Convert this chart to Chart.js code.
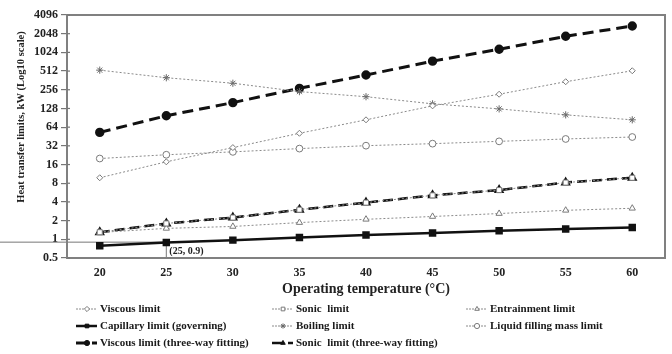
<!DOCTYPE html>
<html>
<head>
<meta charset="utf-8">
<script src="https://cdn.jsdelivr.net/npm/chart.js@4/dist/chart.umd.min.js"></script>
<style>
  html, body { margin: 0; padding: 0; background: #fff; }
  #wrap { width: 672px; height: 354px; position: relative; }
</style>
</head>
<body>
<div id="wrap"><canvas id="c" width="672" height="354"></canvas></div>
<script>
// ---- Data ----
const temperatures = [20, 25, 30, 35, 40, 45, 50, 55, 60];
const viscousLimit = [9.8, 17.7, 30, 51, 84, 141, 217, 345, 518];
const sonicLimit = [1.3, 1.8, 2.24, 3.0, 3.9, 5.1, 6.2, 8.2, 9.8];
const entrainmentLimit = [1.29, 1.5, 1.61, 1.86, 2.1, 2.33, 2.6, 2.93, 3.16];
const capillaryLimit = [0.79, 0.89, 0.97, 1.07, 1.17, 1.26, 1.37, 1.47, 1.55];
const boilingLimit = [530, 400, 326, 239, 198, 152, 126, 101, 84];
const liquidFillingLimit = [20, 23, 25.6, 28.9, 32.2, 34.7, 37.8, 41.3, 44.4];
const viscousThreeWay = [52.7, 97.6, 159, 270, 442, 740, 1150, 1860, 2720];
const sonicThreeWay = [1.3, 1.8, 2.24, 3.0, 3.9, 5.1, 6.2, 8.2, 9.8];
const yTickValues = [0.5, 1, 2, 4, 8, 16, 32, 64, 128, 256, 512, 1024, 2048, 4096];
const yTickLabels = ['0.5', '1', '2', '4', '8', '16', '32', '64', '128', '256', '512', '1024', '2048', '4096'];
const seriesNames = ['Viscous limit', 'Sonic  limit', 'Entrainment limit', 'Capillary limit (governing)',
  'Boiling limit', 'Liquid filling mass limit', 'Viscous limit (three-way fitting)', 'Sonic  limit (three-way fitting)'];
const refPoint = { x: 25, y: 0.9, label: '(25, 0.9)' };
const xTitle = 'Operating temperature (\u00B0C)';
const yTitle = 'Heat transfer limits, kW (Log10 scale)';

const SERIF = '"Liberation Serif", "DejaVu Serif", serif';
const grey = '#8a8a8a';

function pts(arr) { return temperatures.map((t, i) => ({ x: t, y: arr[i] })); }

function dotted(label, data, style, extra) {
  return Object.assign({
    label, data: pts(data),
    borderColor: grey, borderWidth: 1, borderDash: [2, 2],
    pointStyle: style, pointRadius: 3.2, pointBorderColor: '#7a7a7a', pointBackgroundColor: '#fff',
    pointBorderWidth: 1, fill: false, tension: 0
  }, extra || {});
}

const datasets = [
  dotted(seriesNames[0], viscousLimit, 'rectRot', { pointRadius: 3 }),
  dotted(seriesNames[1], sonicLimit, 'rect', { pointRadius: 3.6 }),
  dotted(seriesNames[2], entrainmentLimit, 'triangle', { pointRadius: 3.6 }),
  {
    label: seriesNames[3], data: pts(capillaryLimit),
    borderColor: '#111', borderWidth: 2.5, borderDash: [],
    pointStyle: 'rect', pointRadius: 3.5, pointBackgroundColor: '#111', pointBorderColor: '#111', fill: false
  },
  dotted(seriesNames[4], boilingLimit, 'star', { pointRadius: 3.6, pointBorderColor: '#6a6a6a', pointBorderWidth: 1 }),
  dotted(seriesNames[5], liquidFillingLimit, 'circle', { pointRadius: 3.4 }),
  {
    label: seriesNames[6], data: pts(viscousThreeWay),
    borderColor: '#111', borderWidth: 3, borderDash: [11, 6],
    pointStyle: 'circle', pointRadius: 3.2, pointBackgroundColor: '#111', pointBorderColor: '#111', fill: false
  },
  {
    label: seriesNames[7], data: pts(sonicThreeWay),
    borderColor: '#111', borderWidth: 2.5, borderDash: [10, 5],
    pointStyle: 'triangle', pointRadius: 3.5, pointBackgroundColor: '#111', pointBorderColor: '#111', fill: false
  }
];

// Legend grid positions (row, col)
const legendCols = [76, 272, 466];
const legendRows = [309, 326, 343];
const legendSlots = [[0,0],[0,1],[0,2],[1,0],[1,1],[1,2],[2,0],[2,1]];

const framePlugin = {
  id: 'frame',
  beforeDatasetsDraw(chart) {
    const { ctx } = chart;
    const xs = chart.scales.x, ys = chart.scales.y;
    const px = xs.getPixelForValue(refPoint.x), py = ys.getPixelForValue(refPoint.y);
    ctx.save();
    ctx.strokeStyle = '#777';
    ctx.lineWidth = 1;
    ctx.beginPath();
    ctx.moveTo(0, py); ctx.lineTo(px, py);
    ctx.moveTo(px, py); ctx.lineTo(px, chart.chartArea.bottom);
    ctx.stroke();
    ctx.fillStyle = '#222';
    ctx.font = 'bold 10px ' + SERIF;
    ctx.textBaseline = 'middle';
    ctx.textAlign = 'left';
    ctx.fillText(refPoint.label, px + 3, py + 9);
    ctx.restore();
  },
  afterDraw(chart) {
    const { ctx, chartArea: a } = chart;
    ctx.save();
    ctx.strokeStyle = '#808080';
    ctx.lineWidth = 2;
    ctx.strokeRect(a.left, a.top, a.right - a.left, a.bottom - a.top);
    const ys = chart.scales.y;
    ctx.lineWidth = 1.2;
    ctx.strokeStyle = '#777';
    yTickValues.forEach(v => {
      const y = ys.getPixelForValue(v);
      ctx.beginPath(); ctx.moveTo(a.left, y); ctx.lineTo(a.left + 3, y); ctx.stroke();
    });
    // y-axis title
    ctx.save();
    ctx.translate(21, 117);
    ctx.rotate(-Math.PI / 2);
    ctx.font = 'bold 10.5px ' + SERIF;
    ctx.fillStyle = '#222';
    ctx.textAlign = 'center';
    ctx.textBaseline = 'middle';
    ctx.fillText(yTitle, 0, 0);
    ctx.restore();
    // legend
    ctx.font = 'bold 11px ' + SERIF;
    ctx.textBaseline = 'middle';
    ctx.textAlign = 'left';
    chart.data.datasets.forEach((ds, i) => {
      const [r, c] = legendSlots[i];
      const x0 = legendCols[c], y = legendRows[r];
      const x1 = x0 + 21;
      const mx = x0 + 11;
      ctx.save();
      ctx.strokeStyle = ds.borderColor;
      ctx.lineWidth = ds.borderWidth;
      const dash = ds.borderDash || [];
      if (dash.length && dash[0] <= 3) {
        ctx.setLineDash([2, 1]);
        ctx.beginPath(); ctx.moveTo(x0, y); ctx.lineTo(x1, y); ctx.stroke();
      } else if (dash.length) {
        ctx.setLineDash([]);
        ctx.beginPath(); ctx.moveTo(x0, y); ctx.lineTo(mx, y); ctx.stroke();
        ctx.beginPath(); ctx.moveTo(mx + 5, y); ctx.lineTo(x1, y); ctx.stroke();
      } else {
        ctx.setLineDash([]);
        ctx.beginPath(); ctx.moveTo(x0, y); ctx.lineTo(x1, y); ctx.stroke();
      }
      ctx.setLineDash([]);
      ctx.fillStyle = ds.pointBackgroundColor;
      ctx.strokeStyle = ds.pointBorderColor;
      ctx.lineWidth = ds.pointBorderWidth || 1;
      Chart.helpers.drawPoint(ctx, { pointStyle: ds.pointStyle, radius: 2.6, rotation: 0, borderWidth: ctx.lineWidth }, mx, y);
      ctx.restore();
      ctx.fillStyle = '#1a1a1a';
      ctx.fillText(ds.label, x1 + 3, y);
    });
    ctx.restore();
  }
};

new Chart(document.getElementById('c'), {
  type: 'line',
  data: { datasets },
  plugins: [framePlugin],
  options: {
    responsive: false,
    animation: false,
    layout: { padding: { left: 0, right: 2, top: 15, bottom: 56 } },
    plugins: { legend: { display: false }, tooltip: { enabled: false } },
    scales: {
      x: {
        type: 'linear', min: 17.54, max: 62.46,
        afterBuildTicks: s => { s.ticks = temperatures.map(v => ({ value: v })); },
        afterFit: s => { s.height = 40; },
        grid: { display: false, drawTicks: false },
        border: { display: false },
        ticks: { color: '#222', font: { family: SERIF, size: 12, weight: 'bold' }, padding: 8, maxRotation: 0, autoSkip: false },
        title: { display: true, text: xTitle, color: '#222', font: { family: SERIF, size: 14, weight: 'bold' }, padding: { top: 2, bottom: 0 } }
      },
      y: {
        type: 'logarithmic', min: 0.5, max: 4096,
        afterBuildTicks: s => { s.ticks = yTickValues.map(v => ({ value: v })); },
        afterFit: s => { s.width = 67; },
        grid: { drawOnChartArea: false, drawTicks: true, tickLength: 6, color: '#777', lineWidth: 1.2 },
        border: { display: false },
        ticks: {
          color: '#222', font: { family: SERIF, size: 12, weight: 'bold' }, padding: 3, autoSkip: false,
          callback: (v) => { const i = yTickValues.indexOf(v); return i >= 0 ? yTickLabels[i] : ''; }
        },
        title: { display: false }
      }
    }
  }
});
</script>
</body>
</html>
